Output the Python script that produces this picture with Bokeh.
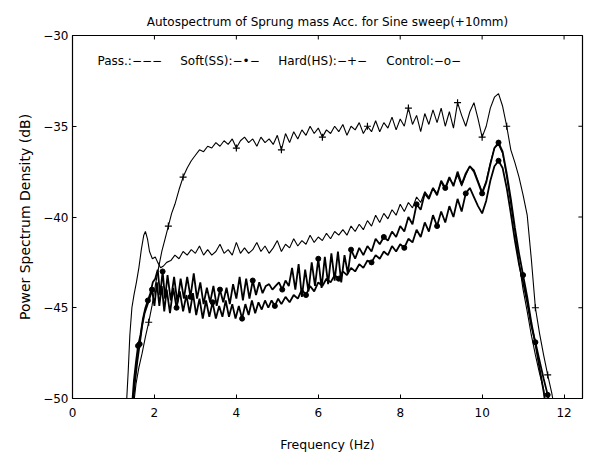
from bokeh.plotting import figure
from bokeh.models import Range1d, FixedTicker, Label
from bokeh.embed import file_html
from bokeh.resources import INLINE

title_text = "Autospectrum of Sprung mass Acc. for Sine sweep(+10mm)"
legend_labels = ["Pass.:\u2212\u2212\u2212", "Soft(SS):\u2212\u2022\u2212",
                 "Hard(HS):\u2212+\u2212", "Control:\u2212o\u2212"]
x_ticks = [0, 2, 4, 6, 8, 10, 12]
y_ticks = [-50, -45, -40, -35, -30]

hard_f = [1.50, 1.55, 1.62, 1.70, 1.78, 1.86, 1.94, 2.02, 2.10, 2.18, 2.26, 2.34, 2.42, 2.50,
          2.60, 2.70, 2.80, 2.90, 3.00, 3.10, 3.20, 3.30, 3.40, 3.50, 3.60, 3.70, 3.80, 3.90,
          4.00, 4.10, 4.20, 4.30, 4.40, 4.50, 4.60, 4.70, 4.80, 4.90, 5.00, 5.10, 5.20, 5.30,
          5.40, 5.50, 5.60, 5.70, 5.80, 5.90, 6.00, 6.10, 6.20, 6.30, 6.40, 6.50, 6.60, 6.70,
          6.80, 6.90, 7.00, 7.10, 7.20, 7.30, 7.40, 7.50, 7.60, 7.70, 7.80, 7.90, 8.00, 8.10,
          8.20, 8.30, 8.40, 8.50, 8.60, 8.70, 8.80, 8.90, 9.00, 9.10, 9.20, 9.30, 9.40, 9.50,
          9.60, 9.70, 9.80, 9.90, 10.00, 10.10, 10.20, 10.30, 10.40, 10.50, 10.60, 10.70, 10.80,
          10.90, 11.00, 11.10, 11.20, 11.30, 11.40, 11.50, 11.60, 11.70, 11.76]
hard_db = [-50.2, -49.2, -48.3, -47.5, -46.6, -45.8, -44.9, -43.8, -42.8, -41.9, -41.2, -40.5, -39.8, -39.3,
           -38.5, -37.8, -37.3, -36.9, -36.6, -36.3, -36.4, -36.1, -36.2, -35.9, -36.1, -35.8, -36.0, -35.7,
           -36.2, -35.8, -35.6, -35.9, -35.7, -36.1, -35.6, -35.9, -35.7, -36.0, -35.5, -36.3, -35.4, -35.9,
           -35.3, -35.7, -35.2, -35.5, -35.0, -35.4, -35.1, -35.6, -35.2, -35.4, -35.0, -35.3, -34.9, -35.5,
           -35.0, -35.2, -34.8, -35.4, -35.0, -35.3, -34.7, -35.3, -34.8, -35.1, -34.5, -35.2, -34.6, -35.0,
           -34.0, -34.9, -34.4, -35.3, -34.3, -34.9, -34.1, -34.8, -34.0, -35.0, -34.2, -35.1, -33.7, -34.4,
           -35.0, -34.2, -33.7, -34.6, -35.6, -35.0, -34.0, -33.4, -33.2, -33.9, -35.0, -36.3, -37.0,
           -37.8, -38.8, -39.9, -42.3, -45.0, -46.4, -47.6, -48.7, -49.7, -50.5]

pass_f = [1.32, 1.36, 1.40, 1.45, 1.50, 1.56, 1.62, 1.68, 1.74, 1.78, 1.83, 1.88, 1.95, 2.02, 2.08,
          2.15, 2.22, 2.30, 2.40, 2.50, 2.60, 2.70, 2.80, 2.90, 3.00, 3.10, 3.20, 3.30, 3.40, 3.50,
          3.60, 3.70, 3.80, 3.90, 4.00, 4.10, 4.20, 4.30, 4.40, 4.50, 4.60, 4.70, 4.80, 4.90, 5.00,
          5.10, 5.20, 5.30, 5.40, 5.50, 5.60, 5.70, 5.80, 5.90, 6.00, 6.10, 6.20, 6.30, 6.40, 6.50,
          6.60, 6.70, 6.80, 6.90, 7.00, 7.10, 7.20, 7.30, 7.40, 7.50, 7.60, 7.70, 7.80, 7.90, 8.00,
          8.10, 8.20, 8.30, 8.40, 8.50, 8.60, 8.70, 8.80, 8.90, 9.00, 9.10, 9.20, 9.30, 9.40, 9.50,
          9.60, 9.70, 9.80, 9.90, 10.00, 10.10, 10.20, 10.30, 10.40, 10.50, 10.60, 10.70, 10.80,
          10.90, 11.00, 11.10, 11.20, 11.30, 11.40, 11.50, 11.55]
pass_db = [-50.2, -48.5, -46.5, -45.0, -44.3, -43.6, -42.8, -41.8, -41.0, -40.8, -41.2, -41.9, -42.3, -42.2, -42.5,
           -42.8, -42.7, -42.5, -42.4, -42.1, -42.3, -41.9, -42.1, -41.8, -42.0, -41.6, -42.1, -41.8, -42.1, -41.9,
           -41.5, -42.0, -41.8, -42.1, -41.4, -42.0, -41.7, -42.0, -41.8, -41.4, -41.9, -41.6, -42.0, -41.7, -41.3,
           -41.9, -41.5, -41.7, -41.2, -41.6, -41.3, -41.5, -41.0, -41.4, -41.1, -41.3, -40.9, -41.2, -40.8, -41.0,
           -40.7, -41.0, -40.5, -40.8, -40.4, -40.7, -40.2, -40.5, -39.9, -40.3, -39.8, -40.1, -39.6, -39.9, -39.3,
           -39.7, -39.2, -39.5, -38.9, -39.2, -38.6, -38.9, -38.4, -38.7, -38.1, -38.5, -37.9, -38.2, -37.7, -38.3,
           -37.7, -37.2, -37.4, -38.0, -38.6, -38.0, -37.0, -36.2, -36.0, -36.5, -37.8, -39.3, -40.8,
           -42.5, -44.0, -45.2, -46.5, -47.6, -48.6, -49.5, -50.4]

soft_f = [1.46, 1.50, 1.55, 1.60, 1.66, 1.72, 1.78, 1.84, 1.90, 1.96, 2.02, 2.08, 2.14, 2.20, 2.26,
          2.32, 2.40, 2.48, 2.56, 2.64, 2.72, 2.80, 2.88, 2.96, 3.04, 3.12, 3.20, 3.28, 3.36, 3.44,
          3.52, 3.60, 3.68, 3.76, 3.84, 3.92, 4.00, 4.08, 4.16, 4.24, 4.32, 4.40, 4.48, 4.56, 4.64,
          4.72, 4.80, 4.88, 4.96, 5.04, 5.12, 5.20, 5.28, 5.36, 5.44, 5.52, 5.60, 5.68, 5.76, 5.84,
          5.92, 6.00, 6.08, 6.16, 6.24, 6.32, 6.40, 6.48, 6.56, 6.64, 6.72, 6.80, 6.90, 7.00, 7.10,
          7.20, 7.30, 7.40, 7.50, 7.60, 7.70, 7.80, 7.90, 8.00, 8.10, 8.20, 8.30, 8.40, 8.50, 8.60,
          8.70, 8.80, 8.90, 9.00, 9.10, 9.20, 9.30, 9.40, 9.50, 9.60, 9.70, 9.80, 9.90, 10.00, 10.10,
          10.20, 10.30, 10.40, 10.50, 10.60, 10.70, 10.80, 10.90, 11.00, 11.10, 11.20, 11.30, 11.40,
          11.50, 11.55]
soft_db = [-50.2, -49.0, -48.0, -47.1, -46.5, -45.6, -45.0, -44.6, -44.2, -43.6, -43.4, -42.9, -44.3, -43.0, -44.5,
           -43.2, -44.6, -43.3, -44.7, -43.4, -44.5, -43.3, -44.4, -43.1, -44.5, -43.6, -44.8, -43.9, -44.7, -43.8,
           -44.9, -44.0, -44.7, -43.9, -44.8, -43.7, -44.5, -43.3, -44.6, -43.4, -44.5, -43.5, -44.3, -43.6, -44.2,
           -43.8, -43.7, -44.0, -43.8, -43.6, -44.0, -43.5, -43.8, -42.8, -44.0, -42.6, -44.4, -42.9, -44.1, -42.5,
           -43.8, -42.3, -43.9, -42.2, -43.7, -42.0, -43.5, -41.9, -43.6, -42.1, -43.1, -41.8, -42.3, -41.7, -42.1,
           -41.6, -41.9, -41.2, -41.5, -41.1, -41.3, -40.8, -41.1, -40.5, -40.8, -40.0, -40.4, -39.3, -39.6, -38.7,
           -39.0, -38.4, -38.8, -38.0, -38.4, -37.8, -38.3, -37.5, -38.2, -37.6, -37.2, -37.5, -38.1, -38.7, -38.1,
           -37.1, -36.2, -35.9, -36.4, -37.6, -39.0, -40.6, -42.0, -43.2, -44.4, -45.8, -47.0, -48.3,
           -49.6, -50.4]

ctrl_f = [1.48, 1.52, 1.58, 1.64, 1.70, 1.76, 1.82, 1.88, 1.94, 2.00, 2.06, 2.12, 2.18, 2.24, 2.30,
          2.38, 2.46, 2.54, 2.62, 2.70, 2.78, 2.86, 2.94, 3.02, 3.10, 3.18, 3.26, 3.34, 3.42, 3.50,
          3.58, 3.66, 3.74, 3.82, 3.90, 3.98, 4.06, 4.14, 4.22, 4.30, 4.38, 4.46, 4.54, 4.62, 4.70,
          4.78, 4.86, 4.94, 5.02, 5.10, 5.20, 5.30, 5.40, 5.50, 5.60, 5.70, 5.80, 5.90, 6.00, 6.10,
          6.20, 6.30, 6.40, 6.50, 6.60, 6.70, 6.80, 6.90, 7.00, 7.10, 7.20, 7.30, 7.40, 7.50, 7.60,
          7.70, 7.80, 7.90, 8.00, 8.10, 8.20, 8.30, 8.40, 8.50, 8.60, 8.70, 8.80, 8.90, 9.00, 9.10,
          9.20, 9.30, 9.40, 9.50, 9.60, 9.70, 9.80, 9.90, 10.00, 10.10, 10.20, 10.30, 10.40, 10.50,
          10.60, 10.70, 10.80, 10.90, 11.00, 11.10, 11.20, 11.30, 11.40, 11.50, 11.60, 11.66]
ctrl_db = [-50.2, -49.2, -48.0, -47.0, -46.0, -45.3, -44.9, -44.5, -44.0, -44.9, -43.6, -44.9, -43.8, -45.2, -44.0,
           -45.3, -43.9, -45.0, -44.1, -45.2, -44.3, -45.3, -44.2, -45.4, -44.5, -45.6, -44.6, -45.5, -44.7, -45.6,
           -44.9, -45.5, -44.6, -45.5, -44.8, -45.6, -44.9, -45.6, -44.8, -45.4, -44.6, -45.3, -44.7, -45.1, -44.6,
           -45.0, -44.6, -44.9, -44.5, -44.8, -44.4, -44.7, -44.3, -44.5, -44.0, -44.3, -43.8, -44.1, -43.6, -43.8,
           -43.4, -43.6, -43.2, -43.4, -43.0, -43.2, -42.8, -43.0, -42.6, -42.8, -42.4, -42.5, -42.1, -42.3, -41.9,
           -42.1, -41.6, -41.9, -41.5, -41.7, -41.2, -41.4, -40.7, -41.1, -40.3, -40.8, -39.9, -40.5, -39.7, -40.3,
           -39.4, -40.0, -39.0, -39.7, -38.7, -38.4, -38.9, -39.4, -39.8, -39.1, -38.0, -37.2, -36.9, -37.3,
           -38.4, -39.8, -41.3, -42.6, -43.6, -44.7, -46.0, -46.9, -47.9, -48.9, -49.8, -50.4]

hard_marks = [1.86, 2.34, 2.70, 4.00, 5.10, 6.10, 7.20, 8.20, 9.40, 10.00, 10.60, 11.30, 11.60]
soft_marks = [1.60, 1.84, 2.20, 2.88, 3.60, 4.40, 5.12, 6.00, 6.80, 7.60, 8.40, 9.10, 10.00, 10.40, 11.00]
ctrl_marks = [1.64, 1.94, 2.54, 3.42, 4.14, 4.94, 5.70, 6.50, 7.30, 8.10, 8.90, 9.60, 10.40, 11.30, 11.60]

font = "DejaVu Sans"
X_END = 12.45

p = figure(frame_width=510, frame_height=363, output_backend="svg", toolbar_location=None,
           x_range=Range1d(0, X_END), y_range=Range1d(-50, -30),
           min_border_left=72, min_border_right=7, min_border_top=35, min_border_bottom=59,
           title=title_text)
p.title.align = "center"
p.title.text_font = font
p.title.text_font_size = "12px"
p.title.text_font_style = "normal"
p.title.text_color = "black"
p.title.standoff = 13
p.background_fill_color = "white"
p.border_fill_color = "white"
p.outline_line_color = "black"
p.outline_line_width = 1.2
p.xgrid.visible = False
p.ygrid.visible = False

for ax in (p.xaxis[0], p.yaxis[0]):
    ax.major_tick_in = 4
    ax.major_tick_out = 0
    ax.minor_tick_line_color = None
    ax.axis_line_color = "black"
    ax.major_tick_line_color = "black"
    ax.major_label_text_font = font
    ax.major_label_text_font_size = "12px"
    ax.major_label_text_color = "black"
    ax.axis_label_text_font = font
    ax.axis_label_text_font_style = "normal"
    ax.axis_label_text_color = "black"

p.xaxis.axis_label_text_font_size = "12.5px"
p.yaxis.axis_label_text_font_size = "14px"
p.xaxis.ticker = FixedTicker(ticks=x_ticks)
p.yaxis.ticker = FixedTicker(ticks=y_ticks)
p.xaxis.axis_label = "Frequency (Hz)"
p.yaxis.axis_label = "Power Spectrum Density (dB)"
p.xaxis.major_label_standoff = 9
p.xaxis.axis_label_standoff = 17
p.yaxis.major_label_standoff = 4
p.yaxis.axis_label_standoff = 7

# inward ticks on top and right edges of the frame
ny = len(y_ticks)
nx = len(x_ticks)
p.segment(x0=[X_END] * ny, y0=y_ticks, x1=[X_END - 0.1] * ny, y1=y_ticks, line_color="black", line_width=1)
p.segment(x0=x_ticks, y0=[-30] * nx, x1=x_ticks, y1=[-30.22] * nx, line_color="black", line_width=1)

p.line(hard_f, hard_db, line_color="black", line_width=1.1)
p.line(pass_f, pass_db, line_color="black", line_width=1.1)
p.line(soft_f, soft_db, line_color="black", line_width=1.8)
p.line(ctrl_f, ctrl_db, line_color="black", line_width=1.8)

def pick(fs, ys, marks):
    d = dict(zip(fs, ys))
    return marks, [d[m] for m in marks]

mx, my = pick(hard_f, hard_db, hard_marks)
p.scatter(mx, my, marker="cross", size=7, line_color="black", line_width=1.2)
mx, my = pick(soft_f, soft_db, soft_marks)
p.scatter(mx, my, marker="circle", size=5, fill_color="black", line_color="black")
mx, my = pick(ctrl_f, ctrl_db, ctrl_marks)
p.scatter(mx, my, marker="circle", size=5, fill_color="black", line_color="black")

legend_x = [0.61, 2.63, 5.02, 7.66]
for lx, lt in zip(legend_x, legend_labels):
    p.add_layout(Label(x=lx, y=-31.43, text=lt, text_align="left", text_baseline="middle",
                       text_font=font, text_font_size="12px", text_color="black"))

open("out.html", "w").write(file_html(p, INLINE))
